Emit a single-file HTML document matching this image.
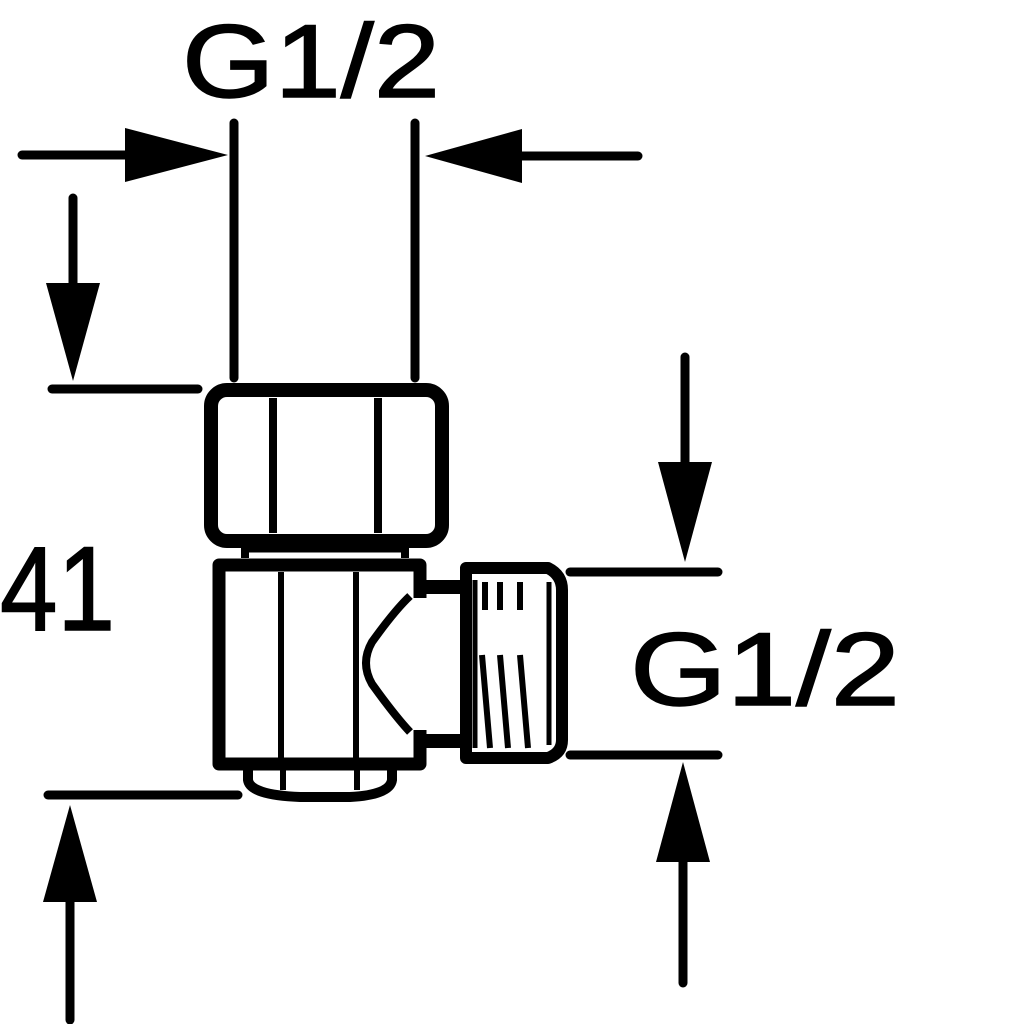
<!DOCTYPE html>
<html><head><meta charset="utf-8"><style>html,body{margin:0;padding:0;background:#fff}svg{display:block}</style></head>
<body>
<svg width="1024" height="1024" viewBox="0 0 1024 1024" xmlns="http://www.w3.org/2000/svg">
<rect width="1024" height="1024" fill="#fff"/>
<g font-family="Liberation Sans, sans-serif" fill="#000">
<text x="182" y="97" font-size="104" textLength="258" lengthAdjust="spacingAndGlyphs" stroke="#000" stroke-width="1.5">G1/2</text>
<text x="630" y="705" font-size="104" textLength="270" lengthAdjust="spacingAndGlyphs" stroke="#000" stroke-width="1.5">G1/2</text>
<text x="0" y="630" font-size="120" textLength="115" lengthAdjust="spacingAndGlyphs" stroke="#000" stroke-width="1.5">41</text>
</g>
<g stroke="#000" stroke-width="9" fill="none" stroke-linecap="round">
<line x1="234" y1="123" x2="234" y2="378"/>
<line x1="415" y1="123" x2="415" y2="378"/>
<line x1="22" y1="155" x2="130" y2="155"/>
<line x1="520" y1="156" x2="638" y2="156"/>
<line x1="73" y1="198" x2="73" y2="290"/>
<line x1="52" y1="389" x2="198" y2="389"/>
<line x1="48" y1="795" x2="238" y2="795"/>
<line x1="70" y1="895" x2="70" y2="1020"/>
<line x1="685" y1="357" x2="685" y2="465"/>
<line x1="570" y1="572" x2="718" y2="572"/>
<line x1="570" y1="755" x2="718" y2="755"/>
<line x1="683" y1="860" x2="683" y2="983"/>
</g>
<g fill="#000">
<polygon points="125,128 228,155 125,182"/>
<polygon points="522,129 425,156 522,183"/>
<polygon points="46,283 100,283 73,381"/>
<polygon points="43,902 97,902 70,805"/>
<polygon points="658,462 712,462 685,562"/>
<polygon points="656,862 710,862 683,762"/>
</g>
<g stroke="#000" fill="none" stroke-linejoin="round">
<rect x="211" y="390" width="231" height="151" rx="16" stroke-width="14"/>
<line x1="273" y1="398" x2="273" y2="533" stroke-width="8"/>
<line x1="378" y1="398" x2="378" y2="533" stroke-width="8"/>
<line x1="245" y1="550" x2="405" y2="550" stroke-width="5"/>
<line x1="245" y1="545" x2="245" y2="558" stroke-width="8"/>
<line x1="405" y1="545" x2="405" y2="558" stroke-width="8"/>
<path d="M420 598 L420 565 L219 565 L219 764 L420 764 L420 730" stroke-width="13"/>
<line x1="281" y1="572" x2="281" y2="758" stroke-width="6"/>
<line x1="356" y1="572" x2="356" y2="758" stroke-width="6"/>
<path d="M410 596 Q395 610 372 642 Q360 663 372 684 Q395 716 410 732" stroke-width="8"/>
<line x1="416" y1="587" x2="463" y2="587" stroke-width="14"/>
<line x1="416" y1="741" x2="463" y2="741" stroke-width="14"/>
<path d="M466 568 L548 568 Q562 575 562 590 L562 740 Q562 753 548 758 L466 758 Z" stroke-width="12"/>
<line x1="475" y1="580" x2="475" y2="748" stroke-width="5"/>
<line x1="549" y1="582" x2="549" y2="745" stroke-width="5"/>
<line x1="485" y1="582" x2="485" y2="610" stroke-width="6"/>
<line x1="500" y1="582" x2="500" y2="610" stroke-width="6"/>
<line x1="520" y1="582" x2="520" y2="610" stroke-width="6"/>
<line x1="482" y1="655" x2="490" y2="748" stroke-width="6"/>
<line x1="500" y1="655" x2="508" y2="748" stroke-width="6"/>
<line x1="520" y1="655" x2="528" y2="748" stroke-width="6"/>
<path d="M248 768 L248 780 Q250 795 300 797 L350 797 Q390 795 392 780 L392 768" stroke-width="10"/>
<line x1="283" y1="770" x2="283" y2="790" stroke-width="6"/>
<line x1="357" y1="770" x2="357" y2="790" stroke-width="6"/>
</g>
</svg>
</body></html>
